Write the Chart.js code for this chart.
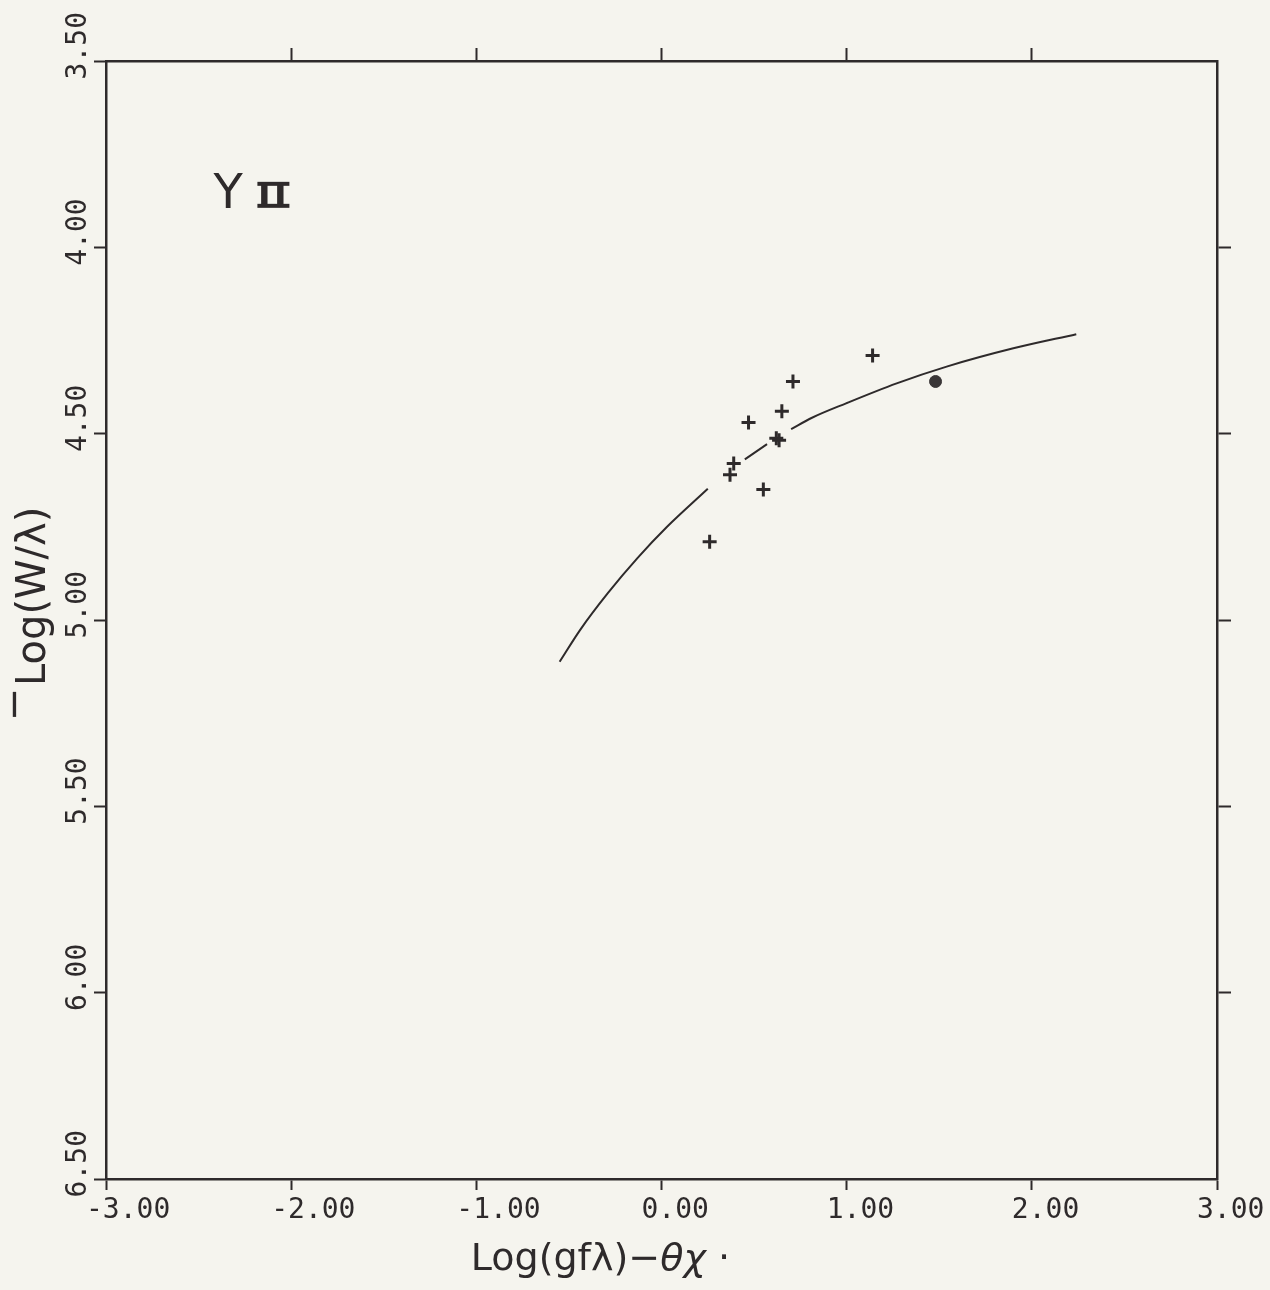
<!DOCTYPE html>
<html>
<head>
<meta charset="utf-8">
<script src="https://cdn.jsdelivr.net/npm/chart.js@4/dist/chart.umd.min.js"></script>
<style>
  html, body { margin: 0; padding: 0; background: #f5f4ee; }
  #myChart { display: block; }
</style>
</head>
<body>
<canvas id="myChart" width="1270" height="1290"></canvas>
<script>
// tick values
var xTicks = [-3, -2, -1, 0, 1, 2, 3];
var yTicks = [3.5, 4, 4.5, 5, 5.5, 6, 6.5];

// measured lines (crosses)
var crossX = [1.14, 0.71, 0.65, 0.47, 0.62, 0.635, 0.39, 0.37, 0.55, 0.26];
var crossY = [4.29, 4.36, 4.44, 4.47, 4.512, 4.518, 4.58, 4.61, 4.65, 4.79];

// the filled dot
var dotX = [1.48];
var dotY = [4.36];

// fitted curve of growth, null = pen lifted
var curveX = [-0.55, -0.44, -0.29, -0.13, 0.03, 0.25, 0.35, 0.45, 0.57, 0.635, 0.70, 0.81, 1.00, 1.27, 1.54, 1.90, 2.24];
var curveY = [5.112, 5.027, 4.928, 4.834, 4.750, 4.648, null, 4.569, 4.528, null, 4.488, 4.458, 4.418, 4.365, 4.320, 4.271, 4.233];

var ink = '#2e2a2b';
var monoFont = { family: '"DejaVu Sans Mono", monospace', size: 28 };

function pairs(xs, ys) {
    var out = [];
    for (var i = 0; i < xs.length; i++) {
        out.push({ x: xs[i], y: ys[i] });
    }
    return out;
}

function fixTicks(values) {
    return function (scale) {
        scale.ticks = values.map(function (v) { return { value: v }; });
    };
}

// fixed box sizes, no extra padding for overhanging labels
function fixSize(w, h) {
    return function (s) {
        if (w !== null) s.width = w;
        if (h !== null) s.height = h;
        s.paddingLeft = 0;
        s.paddingRight = 0;
        s.paddingTop = 0;
        s.paddingBottom = 0;
    };
}

// hide the ticks at both ends (top and right axes only have inner ticks)
function innerOnly(ends) {
    return function (c) {
        if (c.tick && ends.indexOf(c.tick.value) >= 0) {
            return 'rgba(0,0,0,0)';
        }
        return ink;
    };
}

// texts drawn on top: ion label and axis titles
var labels = {
    id: 'labels',
    afterDraw: function (chart) {
        var ctx = chart.ctx;
        var xs = chart.scales.x, ys = chart.scales.y;
        ctx.save();
        ctx.fillStyle = ink;
        ctx.textAlign = 'left';
        ctx.textBaseline = 'alphabetic';

        // "Y II"
        var lx = xs.getPixelForValue(-2.42), ly = ys.getPixelForValue(3.894);
        ctx.font = '48px "DejaVu Sans"';
        ctx.fillText('Y', lx, ly);
        ctx.font = 'bold 34px "DejaVu Sans"';
        ctx.textAlign = 'center';
        ctx.fillText('I', lx + 51, ly - 1);
        ctx.fillText('I', lx + 67, ly - 1);
        ctx.fillRect(lx + 44, ly - 26, 32, 4);
        ctx.fillRect(lx + 44, ly - 4, 32, 4);
        ctx.textAlign = 'left';

        // x title
        var tx = xs.getPixelForValue(-1.03), ty = 1270;
        ctx.font = '38px "DejaVu Sans"';
        var p1 = 'Log(gf\u03bb)\u2212';
        ctx.fillText(p1, tx, ty);
        tx += ctx.measureText(p1).width;
        ctx.font = 'italic 38px "DejaVu Sans"';
        var p2 = '\u03b8\u03c7';
        ctx.fillText(p2, tx, ty);
        tx += ctx.measureText(p2).width;
        ctx.font = '38px "DejaVu Sans"';
        ctx.fillText(' \u00b7', tx, ty);

        // y title, rotated
        ctx.font = '40px "DejaVu Sans"';
        ctx.save();
        ctx.translate(45, 686);
        ctx.rotate(-Math.PI / 2);
        ctx.fillText('Log(W/\u03bb)', 0, 0);
        ctx.restore();
        ctx.save();
        ctx.translate(27, 721);
        ctx.rotate(-Math.PI / 2);
        ctx.fillText('\u2212', 0, 0);
        ctx.restore();

        ctx.restore();
    }
};

var ctx = document.getElementById('myChart').getContext('2d');

new Chart(ctx, {
    type: 'scatter',
    data: {
        datasets: [
            {
                type: 'line',
                data: pairs(curveX, curveY),
                borderColor: ink,
                borderWidth: 2,
                pointRadius: 0,
                tension: 0.4,
                cubicInterpolationMode: 'monotone',
                spanGaps: false,
                fill: false
            },
            {
                data: pairs(crossX, crossY),
                pointStyle: 'cross',
                pointRadius: 7,
                pointBorderWidth: 3,
                borderColor: ink,
                backgroundColor: ink
            },
            {
                data: pairs(dotX, dotY),
                pointStyle: 'circle',
                pointRadius: 6,
                pointBorderWidth: 1,
                borderColor: '#3a3637',
                backgroundColor: '#3a3637'
            }
        ]
    },
    options: {
        responsive: false,
        animation: false,
        events: [],
        layout: { padding: 0 },
        plugins: {
            legend: { display: false },
            tooltip: { enabled: false },
            title: { display: false }
        },
        scales: {
            x: {
                type: 'linear',
                position: 'bottom',
                min: -3,
                max: 3,
                afterBuildTicks: fixTicks(xTicks),
                afterFit: fixSize(null, 111),
                ticks: {
                    autoSkip: false,
                    maxRotation: 0,
                    align: 'start',
                    labelOffset: -20,
                    padding: 4,
                    color: ink,
                    font: monoFont,
                    callback: function (v) { return v.toFixed(2); }
                },
                grid: { drawOnChartArea: false, tickLength: 11, tickWidth: 2, tickColor: ink },
                border: { display: true, color: ink, width: 2.5 }
            },
            x2: {
                type: 'linear',
                position: 'top',
                min: -3,
                max: 3,
                afterBuildTicks: fixTicks(xTicks),
                afterFit: fixSize(null, 61),
                ticks: { display: false },
                grid: { drawOnChartArea: false, tickLength: 13, tickWidth: 2, tickColor: innerOnly([-3, 3]) },
                border: { display: true, color: ink, width: 2.5 }
            },
            y: {
                type: 'linear',
                position: 'left',
                reverse: true,
                min: 3.5,
                max: 6.5,
                afterBuildTicks: fixTicks(yTicks),
                afterFit: fixSize(106, null),
                ticks: {
                    autoSkip: false,
                    minRotation: 90,
                    maxRotation: 90,
                    labelOffset: -49,
                    padding: 15,
                    color: ink,
                    font: monoFont,
                    callback: function (v) { return v.toFixed(2); }
                },
                grid: { drawOnChartArea: false, tickLength: 12, tickWidth: 2, tickColor: ink },
                border: { display: true, color: ink, width: 2.5 }
            },
            y2: {
                type: 'linear',
                position: 'right',
                reverse: true,
                min: 3.5,
                max: 6.5,
                afterBuildTicks: fixTicks(yTicks),
                afterFit: fixSize(53, null),
                ticks: { display: false },
                grid: { drawOnChartArea: false, tickLength: 14, tickWidth: 2, tickColor: innerOnly([3.5, 6.5]) },
                border: { display: true, color: ink, width: 2.5 }
            }
        }
    },
    plugins: [labels]
});
</script>
</body>
</html>
